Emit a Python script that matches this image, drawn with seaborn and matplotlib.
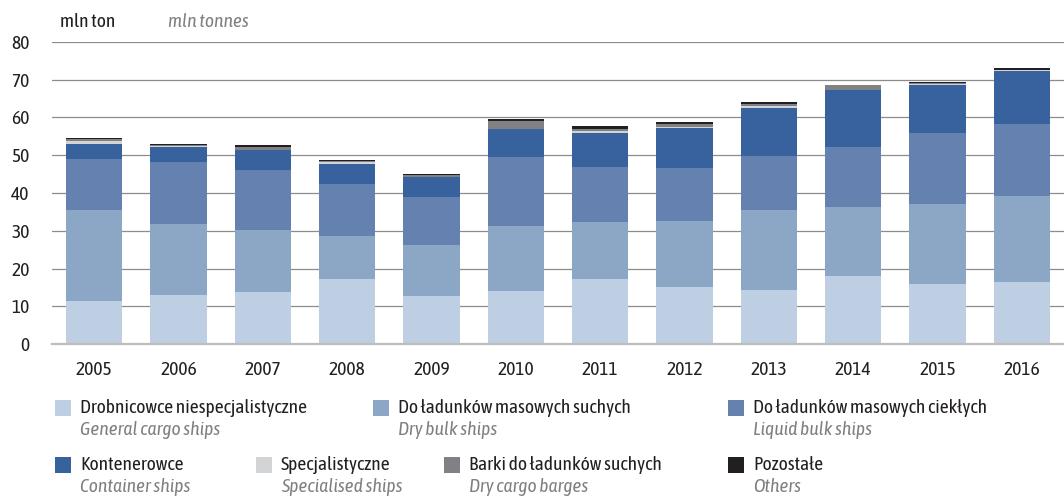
import matplotlib
matplotlib.use("Agg")
import matplotlib.pyplot as plt
from matplotlib.patches import Rectangle
import pandas as pd
import seaborn as sns

# values in mln tonnes
years = ['2005', '2006', '2007', '2008', '2009', '2010',
         '2011', '2012', '2013', '2014', '2015', '2016']
general = [11.5, 12.9, 13.9, 17.1, 12.7, 14.1, 17.2, 15.1, 14.4, 17.9, 15.8, 16.3]
dry_bulk = [23.9, 19.0, 16.4, 11.6, 13.5, 17.2, 15.1, 17.5, 21.0, 18.3, 21.2, 22.8]
liquid_bulk = [13.7, 16.2, 15.7, 13.6, 12.7, 18.2, 14.6, 14.0, 14.5, 16.1, 18.8, 19.3]
container = [4.0, 4.0, 5.3, 5.3, 5.3, 7.4, 9.0, 10.6, 12.7, 14.9, 12.7, 13.8]
specialised = [0.6, 0.3, 0.2, 0.5, 0.1, 0.1, 0.4, 0.2, 0.4, 0.1, 0.3, 0.3]
barges = [0.7, 0.4, 0.8, 0.3, 0.5, 2.0, 0.6, 0.9, 0.7, 1.2, 0.3, 0.2]
others = [0.3, 0.3, 0.3, 0.4, 0.2, 0.6, 0.8, 0.5, 0.5, 0.2, 0.4, 0.3]

series_pl = ['Drobnicowce niespecjalistyczne', 'Do ładunków masowych suchych',
             'Do ładunków masowych ciekłych', 'Kontenerowce', 'Specjalistyczne',
             'Barki do ładunków suchych', 'Pozostałe']
series_en = ['General cargo ships', 'Dry bulk ships', 'Liquid bulk ships',
             'Container ships', 'Specialised ships', 'Dry cargo barges', 'Others']
colors = ['#bfcfe3', '#8ca6c5', '#6581b0', '#38629e', '#d3d4d6', '#808184', '#231f20']

W, H = 1064, 497
sns.set_style("white")
plt.rcParams['font.family'] = ['Asap Condensed', 'Archivo Narrow', 'DejaVu Sans']
DARK = '#231f20'
GREY = '#808080'
FS = 14

df = pd.DataFrame({'year': years, 'general': general, 'dry': dry_bulk,
                   'liquid': liquid_bulk, 'container': container,
                   'spec': specialised, 'barges': barges, 'others': others})
cols = ['general', 'dry', 'liquid', 'container', 'spec', 'barges', 'others']
cum = df[cols].cumsum(axis=1)
cum['year'] = df['year']

fig = plt.figure(figsize=(W / 100, H / 100), dpi=100)
ax = fig.add_axes([52 / W, 1 - 344 / H, 1 - 52 / W, (344 - 42) / H])

# stacked bars: draw cumulative totals from the top layer down
for col, color in reversed(list(zip(cols, colors))):
    sns.barplot(data=cum, x='year', y=col, color=color, saturation=1,
                width=0.67, linewidth=0, ax=ax, zorder=3)

ax.set_xlim(-0.5, 11.39)
ax.set_ylim(0, 80)
ax.set_yticks(range(0, 81, 10))
ax.set_xlabel('')
ax.set_ylabel('')
ax.set_axisbelow(True)
ax.grid(axis='y', color='#8c8c8c', linewidth=0.9, zorder=0)
ax.grid(axis='x', visible=False)
for s in ['left', 'top', 'right']:
    ax.spines[s].set_visible(False)
ax.spines['bottom'].set_color('#bdbdbd')
ax.spines['bottom'].set_linewidth(1.6)
ax.spines['bottom'].set_zorder(4)

ax.tick_params(axis='y', length=0, pad=16, labelsize=FS, labelcolor=DARK)
ax.tick_params(axis='x', which='major', length=0, pad=12, labelsize=FS, labelcolor=DARK)
ax.set_xticks([i - 0.5 for i in range(13)], minor=True)
ax.tick_params(axis='x', which='minor', length=4.5, width=1.2, color='#a6a6a6')

# unit header
fig.text(60 / W, 1 - 22 / H, 'mln ton', fontsize=FS, color=DARK, va='center')
fig.text(168 / W, 1 - 22 / H, 'mln tonnes', fontsize=FS, color=GREY,
         style='italic', va='center')

# legend laid out like the original, two rows
legend_pos = [(55, 408), (373, 408), (728, 408),
              (55, 465), (256, 465), (444, 465), (728, 465)]
for (x, y), pl, en, c in zip(legend_pos, series_pl, series_en, colors):
    fig.add_artist(Rectangle((x / W, 1 - (y + 8) / H), 16 / W, 16 / H,
                             facecolor=c, edgecolor='none', transform=fig.transFigure))
    fig.text((x + 25) / W, 1 - y / H, pl, fontsize=FS, color=DARK, va='center')
    fig.text((x + 25) / W, 1 - (y + 22) / H, en, fontsize=FS, color=GREY,
             style='italic', va='center')

fig.savefig('out.png', dpi=100)
